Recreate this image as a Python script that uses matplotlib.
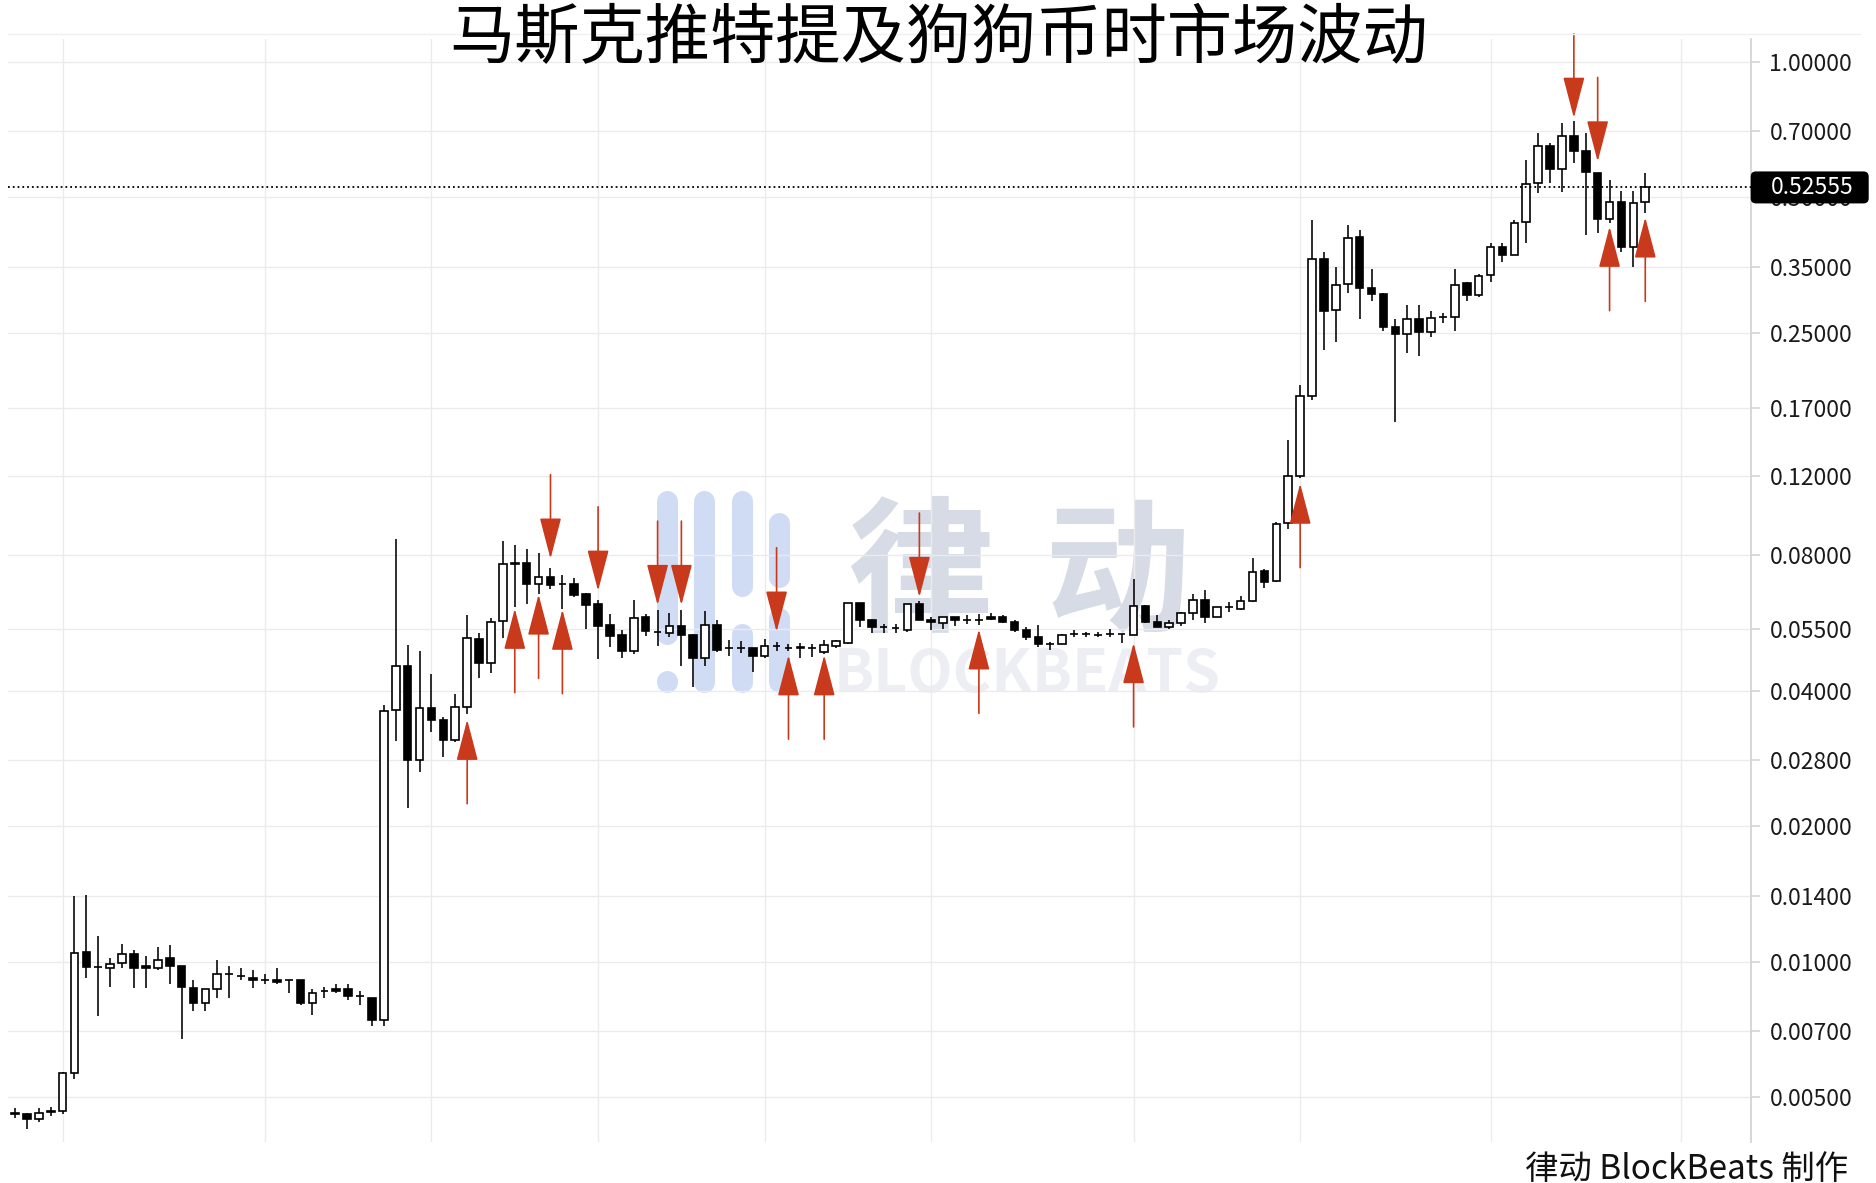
import matplotlib
matplotlib.use('Agg')
import matplotlib.pyplot as plt
from matplotlib.patches import FancyBboxPatch
from matplotlib.lines import Line2D
from matplotlib.ticker import FixedLocator, FuncFormatter, NullLocator
from matplotlib.transforms import blended_transform_factory

plt.rcParams['font.family'] = ['Noto Sans CJK SC', 'DejaVu Sans']

# ---------------- data ----------------
title = "马斯克推特提及狗狗币时市场波动"
footer = "律动 BlockBeats 制作"
watermark_cn = ["律", "动"]
watermark_en = "BLOCKBEATS"
last_price = 0.52555
last_label = "0.52555"

opens = [
    0.00458, 0.00458, 0.00446, 0.00463, 0.00466, 0.00567, 0.0105, 0.00975, 0.0097, 0.00995,
    0.0104, 0.0098, 0.0097, 0.0102, 0.0098, 0.00875, 0.00808, 0.0087, 0.0094, 0.0093,
    0.0092, 0.0091, 0.0091, 0.0091, 0.0091, 0.0081, 0.0086, 0.0087, 0.0087, 0.0084,
    0.0083, 0.00742,
    0.0362, 0.0455, 0.0281, 0.0366, 0.0345, 0.0311, 0.0369, 0.0522,
    0.0460, 0.0571, 0.0765, 0.0770, 0.0692, 0.0715, 0.0692, 0.0692, 0.0655, 0.0622,
    0.0560, 0.0532, 0.0491, 0.0584, 0.0541, 0.0537, 0.0556, 0.0532, 0.0473, 0.0561,
    0.0497, 0.0498, 0.0497, 0.0477, 0.0503, 0.0499, 0.0500, 0.0497, 0.0488, 0.0502,
    0.0510, 0.0626, 0.0574, 0.0553, 0.0552, 0.0545, 0.0622, 0.0576, 0.0566, 0.0582,
    0.0575, 0.0575, 0.0584, 0.0584, 0.0569, 0.0545, 0.0528, 0.0507, 0.0507, 0.0536,
    0.0534, 0.0533, 0.0536, 0.0536, 0.0533, 0.0617, 0.0569, 0.0553, 0.0566, 0.0596,
    0.0638, 0.0582, 0.0613, 0.0608, 0.0633, 0.0738, 0.0700, 0.0944, 0.1200, 0.1808,
    0.3636, 0.2803, 0.3205, 0.4072, 0.3147, 0.3040, 0.2576, 0.2482, 0.2675, 0.2510,
    0.2702, 0.2712, 0.3216, 0.3030, 0.3360, 0.3882, 0.3716, 0.4410, 0.5368, 0.6510,
    0.5780, 0.6850, 0.6320, 0.5670, 0.4480, 0.4880, 0.3880, 0.4880]

highs = [
    0.00473, 0.00460, 0.00473, 0.00475, 0.00568, 0.0140, 0.0141, 0.01141, 0.0102, 0.01094,
    0.0106, 0.0103, 0.0108, 0.0109, 0.0098, 0.0091, 0.0087, 0.0101, 0.0098, 0.0097,
    0.0096, 0.0094, 0.0097, 0.0091, 0.0091, 0.0087, 0.0088, 0.0089, 0.0089, 0.0086,
    0.0083, 0.0371,
    0.0869, 0.0505, 0.0491, 0.0436, 0.0350, 0.0394, 0.0589, 0.0538,
    0.0579, 0.0860, 0.0843, 0.0826, 0.0808, 0.0748, 0.0724, 0.0712, 0.0660, 0.0635,
    0.0593, 0.0545, 0.0638, 0.0592, 0.0604, 0.0596, 0.0606, 0.0536, 0.0601, 0.0576,
    0.0518, 0.0516, 0.0497, 0.0520, 0.0514, 0.0508, 0.0511, 0.0508, 0.0518, 0.0518,
    0.0626, 0.0626, 0.0578, 0.0563, 0.0563, 0.0622, 0.0633, 0.0584, 0.0582, 0.0584,
    0.0588, 0.0592, 0.0594, 0.0588, 0.0574, 0.0553, 0.0561, 0.0513, 0.0536, 0.0545,
    0.0541, 0.0540, 0.0548, 0.0536, 0.0710, 0.0620, 0.0589, 0.0574, 0.0599, 0.0655,
    0.0670, 0.0613, 0.0629, 0.0651, 0.0790, 0.0746, 0.0950, 0.1443, 0.1910, 0.4451,
    0.3783, 0.3490, 0.4336, 0.4226, 0.3456, 0.3066, 0.2675, 0.2877, 0.2877, 0.2792,
    0.2760, 0.3463, 0.3244, 0.3370, 0.3950, 0.3960, 0.4450, 0.6060, 0.6940, 0.6610,
    0.7300, 0.7400, 0.6960, 0.5670, 0.5460, 0.5170, 0.5170, 0.5670]

lows = [
    0.00449, 0.00425, 0.00441, 0.00453, 0.00458, 0.0055, 0.00922, 0.00759, 0.0088, 0.00966,
    0.00875, 0.00875, 0.0096, 0.0089, 0.00672, 0.00778, 0.00776, 0.0083, 0.0083, 0.0091,
    0.00875, 0.0089, 0.0089, 0.0085, 0.0080, 0.0076, 0.0083, 0.0085, 0.0082, 0.0080,
    0.0072, 0.0072,
    0.0310, 0.0220, 0.0264, 0.0324, 0.0285, 0.0307, 0.0355, 0.0428,
    0.0438, 0.0524, 0.0614, 0.0625, 0.0655, 0.0675, 0.0609, 0.0646, 0.0550, 0.0470,
    0.0501, 0.0474, 0.0484, 0.0529, 0.0502, 0.0527, 0.0455, 0.0408, 0.0453, 0.0488,
    0.0477, 0.0486, 0.0440, 0.0472, 0.0490, 0.0490, 0.0472, 0.0475, 0.0484, 0.0499,
    0.0507, 0.0553, 0.0538, 0.0538, 0.0538, 0.0541, 0.0576, 0.0545, 0.0550, 0.0556,
    0.0563, 0.0560, 0.0575, 0.0565, 0.0541, 0.0519, 0.0500, 0.0494, 0.0507, 0.0527,
    0.0527, 0.0527, 0.0527, 0.0510, 0.0533, 0.0566, 0.0553, 0.0549, 0.0556, 0.0574,
    0.0567, 0.0582, 0.0600, 0.0604, 0.0629, 0.0677, 0.0698, 0.0913, 0.1186, 0.1775,
    0.2286, 0.2378, 0.3056, 0.2675, 0.2938, 0.2519, 0.1583, 0.2255, 0.2220, 0.2448,
    0.2620, 0.2525, 0.2938, 0.3000, 0.3244, 0.3594, 0.3716, 0.3950, 0.5110, 0.5370,
    0.5140, 0.5970, 0.4130, 0.4155, 0.4380, 0.3780, 0.3500, 0.4600]

closes = [
    0.00460, 0.00447, 0.00462, 0.00465, 0.00566, 0.01047, 0.00975, 0.00972, 0.0099, 0.0104,
    0.0097, 0.0097, 0.0101, 0.0098, 0.0088, 0.00808, 0.0087, 0.0094, 0.0094, 0.0093,
    0.0091, 0.0091, 0.0090, 0.0091, 0.0081, 0.0085, 0.0086, 0.0086, 0.0084, 0.0084,
    0.00742, 0.0360,
    0.0455, 0.0281, 0.0366, 0.0345, 0.0311, 0.0368, 0.0525, 0.0460,
    0.0569, 0.0765, 0.0769, 0.0692, 0.0715, 0.0686, 0.0692, 0.0652, 0.0620, 0.0557,
    0.0530, 0.0491, 0.0581, 0.0544, 0.0541, 0.0556, 0.0531, 0.0472, 0.0559, 0.0492,
    0.0497, 0.0498, 0.0477, 0.0502, 0.0503, 0.0498, 0.0499, 0.0497, 0.0505, 0.0516,
    0.0626, 0.0574, 0.0553, 0.0553, 0.0552, 0.0622, 0.0576, 0.0569, 0.0582, 0.0575,
    0.0575, 0.0575, 0.0578, 0.0569, 0.0545, 0.0527, 0.0507, 0.0507, 0.0533, 0.0536,
    0.0534, 0.0533, 0.0536, 0.0536, 0.0617, 0.0569, 0.0553, 0.0566, 0.0594, 0.0636,
    0.0582, 0.0613, 0.0613, 0.0633, 0.0735, 0.0698, 0.0938, 0.1202, 0.1808, 0.3636,
    0.2794, 0.3188, 0.4065, 0.3147, 0.3040, 0.2576, 0.2482, 0.2675, 0.2502, 0.2688,
    0.2702, 0.3188, 0.3030, 0.3338, 0.3882, 0.3716, 0.4389, 0.5340, 0.6510, 0.5770,
    0.6840, 0.6330, 0.5680, 0.4480, 0.4880, 0.3880, 0.4860, 0.52555]

y_ticks = [0.005, 0.007, 0.01, 0.014, 0.02, 0.028, 0.04, 0.055, 0.08,
           0.12, 0.17, 0.25, 0.35, 0.5, 0.7, 1.0]
x_grid = [4, 21, 35, 49, 63, 77, 94, 108, 124, 140]

# arrows: (candle index, price at arrow tip)
down_arrows = [(45, 0.0786), (49, 0.0667), (54, 0.0620), (56, 0.0620), (64, 0.0541),
               (76, 0.0646), (131, 0.750), (133, 0.600)]
up_arrows = [(38, 0.0345), (42, 0.0609), (44, 0.0655), (46, 0.0606), (65, 0.0480),
             (68, 0.0480), (81, 0.0548), (94, 0.0511), (108, 0.1155), (134, 0.430),
             (137, 0.451)]

# ---------------- figure ----------------
W, H = 1876, 1183
fig = plt.figure(figsize=(W / 100, H / 100), dpi=100)
fig.patch.set_facecolor('white')

ax_l, ax_r, ax_t, ax_b = 8, 1750.7, 39, 1142
ax = fig.add_axes([ax_l / W, 1 - ax_b / H, (ax_r - ax_l) / W, (ax_b - ax_t) / H])
ax.set_facecolor('none')
ax.set_yscale('log')

RED = '#c9391b'
n = len(opens)
xs = list(range(n))

# candles
bottoms = [min(o, c) for o, c in zip(opens, closes)]
heights = [abs(c - o) for o, c in zip(opens, closes)]
faces = ['white' if c >= o else 'black' for o, c in zip(opens, closes)]
ax.vlines(xs, lows, highs, color='black', lw=1.15, zorder=3)
ax.bar(xs, heights, bottom=bottoms, width=0.64, color=faces, edgecolor='black',
       linewidth=1.2, zorder=4)

# arrows
astyle = '-|>,head_length=2.6,head_width=0.68'
for idx, tip in down_arrows:
    ax.annotate('', xy=(idx, tip), xytext=(0, 60.5), textcoords='offset points',
                arrowprops=dict(arrowstyle=astyle, mutation_scale=10, color=RED,
                                lw=1.2, shrinkA=0, shrinkB=0),
                zorder=6, annotation_clip=False)
for idx, tip in up_arrows:
    ax.annotate('', xy=(idx, tip), xytext=(0, -60.5), textcoords='offset points',
                arrowprops=dict(arrowstyle=astyle, mutation_scale=10, color=RED,
                                lw=1.2, shrinkA=0, shrinkB=0),
                zorder=6, annotation_clip=False)

# axes limits / ticks
ax.set_xlim(-0.588, 145.86)
ax.set_ylim(10 ** (-(ax_b - 61.7) / 450), 10 ** ((61.7 - ax_t) / 450))
ax.xaxis.set_major_locator(FixedLocator(x_grid))
ax.tick_params(axis='x', length=0, labelbottom=False)
ax.yaxis.tick_right()
ax.yaxis.set_major_locator(FixedLocator(y_ticks))
ax.yaxis.set_minor_locator(NullLocator())
ax.yaxis.set_major_formatter(FuncFormatter(lambda v, p: f'{v:.5f}'))
ax.tick_params(axis='y', which='major', length=6.5, width=1.2, color='#d4d4d4',
               pad=7, labelsize=16.5, labelcolor='#1a1a1a')
ax.grid(True, color='#ebebeb', lw=1.0)
for s in ['top', 'left', 'bottom']:
    ax.spines[s].set_visible(False)
ax.spines['right'].set_color('#d4d4d4')
ax.spines['right'].set_linewidth(1.3)

# last price line + box
ax.axhline(last_price, color='black', ls=':', lw=1.3, zorder=5)
fig.canvas.draw()
y_ax = ax.transAxes.inverted().transform(ax.transData.transform((0, last_price)))[1]
ax_w_px = ax_r - ax_l
ax_h_px = ax_b - ax_t
bh = 32 / ax_h_px
bw = 118 / ax_w_px
box = FancyBboxPatch((1.0, y_ax - bh / 2), bw, bh,
                     boxstyle='round,pad=0,rounding_size=0.003',
                     mutation_aspect=ax_w_px / ax_h_px,
                     transform=ax.transAxes, clip_on=False, fc='black', ec='none', zorder=10)
ax.add_patch(box)
ax.text(1 + 20 / ax_w_px, last_price, last_label,
        transform=blended_transform_factory(ax.transAxes, ax.transData),
        ha='left', va='center', color='white', fontsize=16.5, zorder=11, clip_on=False)

# faint top line
fig.add_artist(Line2D([8 / W, 1860 / W], [1 - 34 / H, 1 - 34 / H], color='#f0f0f0', lw=1.0))


# ---------------- watermark ----------------
def fx(x):
    return x / W


def fy(y):
    return 1 - y / H


bar_w = 21
logo = [(667, 490, 645), (667, 670, 692), (704, 490, 692), (742, 490, 596),
        (742, 623, 692), (779, 512, 588), (779, 607, 692)]
for x, y0, y1 in logo:
    fig.add_artist(Line2D([fx(x), fx(x)], [fy(y0 + bar_w / 2), fy(max(y1 - bar_w / 2, y0 + bar_w / 2 + 1))],
                          color='#d0dcf4', lw=bar_w * 0.72, solid_capstyle='round', zorder=-5))
fig.text(fx(920), fy(577), watermark_cn[0], ha='center', va='center', fontsize=105,
         fontweight='bold', color='#d7dbe6', zorder=-5)
fig.text(fx(1118), fy(577), watermark_cn[1], ha='center', va='center', fontsize=105,
         fontweight='bold', color='#d7dbe6', zorder=-5)
fig.text(fx(1027), fy(675), watermark_en, ha='center', va='center', fontsize=42.5,
         fontweight='bold', color='#eceef3', zorder=-5)

# ---------------- title & footer ----------------
fig.text(fx(939), fy(40), title, ha='center', va='center', fontsize=47, color='black')
fig.text(fx(1848), fy(1169), footer, ha='right', va='center', fontsize=24, color='#111111')

fig.savefig('out.png', dpi=100, facecolor='white')
